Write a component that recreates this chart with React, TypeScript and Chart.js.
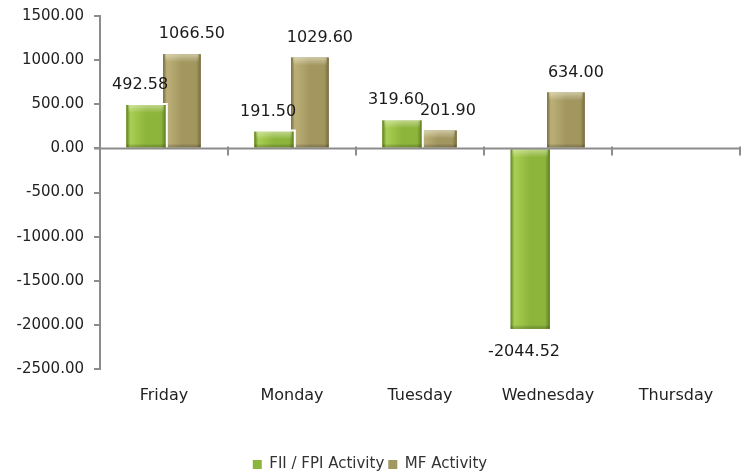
import React, { useEffect, useRef } from "react";
import { Chart, registerables } from "chart.js";

Chart.register(...registerables);

const categories = ["Friday", "Monday", "Tuesday", "Wednesday", "Thursday"];
const fiiValues: (number | null)[] = [492.58, 191.5, 319.6, -2044.52, null];
const mfValues: (number | null)[] = [1066.5, 1029.6, 201.9, 634.0, null];
const seriesNames = ["FII / FPI Activity", "MF Activity"];
const yMin = -2500;
const yMax = 1500;
const yStep = 500;

const FONT = "'DejaVu Sans', Verdana, sans-serif";

const palette = [
  { base: "#8db53b", light: "#a9cf52", dark: "#5f7d22" },
  { base: "#a39760", light: "#bcb078", dark: "#776c3e" },
];

const barShade = {
  id: "barShade",
  afterDatasetDraw(chart: any, args: any) {
    const ctx = chart.ctx;
    const i = args.index;
    const p = palette[i];
    ctx.save();
    args.meta.data.forEach((el: any, j: number) => {
      const v = chart.data.datasets[i].data[j];
      if (v === null || v === undefined) return;
      const left = el.x - el.width / 2;
      const right = el.x + el.width / 2;
      const top = Math.min(el.y, el.base);
      const bottom = Math.max(el.y, el.base);
      const w = right - left;
      const g = ctx.createLinearGradient(left, 0, right, 0);
      g.addColorStop(0, p.dark);
      g.addColorStop(0.1, p.light);
      g.addColorStop(0.5, p.base);
      g.addColorStop(0.88, p.base);
      g.addColorStop(1, p.dark);
      ctx.fillStyle = g;
      ctx.fillRect(left, top, w, bottom - top);
      const hg = ctx.createLinearGradient(0, top, 0, top + 8);
      hg.addColorStop(0, "rgba(255,255,240,0.45)");
      hg.addColorStop(1, "rgba(255,255,240,0)");
      ctx.fillStyle = hg;
      ctx.fillRect(left + 2, top, w - 4, 8);
      const bg = ctx.createLinearGradient(0, bottom - 4, 0, bottom);
      bg.addColorStop(0, "rgba(0,0,0,0)");
      bg.addColorStop(1, "rgba(0,0,0,0.25)");
      ctx.fillStyle = bg;
      ctx.fillRect(left, bottom - 4, w, 4);
      if (i === 0) {
        ctx.strokeStyle = "#ffffff";
        ctx.lineWidth = 2;
        ctx.beginPath();
        if (v >= 0) {
          ctx.moveTo(left, top - 1);
          ctx.lineTo(right + 1, top - 1);
          ctx.lineTo(right + 1, bottom);
        } else {
          ctx.moveTo(left - 1, top);
          ctx.lineTo(left - 1, bottom);
        }
        ctx.stroke();
      }
    });
    ctx.restore();
  },
};

const zeroTicks = {
  id: "zeroTicks",
  afterDatasetsDraw(chart: any) {
    const ctx = chart.ctx;
    const x = chart.scales.x;
    const y = chart.scales.y;
    const y0 = y.getPixelForValue(0);
    ctx.save();
    ctx.strokeStyle = "#8c8c8c";
    ctx.lineWidth = 2;
    ctx.beginPath();
    ctx.moveTo(x.left - 6, y0);
    ctx.lineTo(x.right, y0);
    ctx.stroke();
    for (let k = 0; k <= categories.length; k++) {
      const px = Math.round(x.getPixelForValue(k - 0.5));
      ctx.beginPath();
      ctx.moveTo(px, y0 - 2);
      ctx.lineTo(px, y0 + 7);
      ctx.stroke();
    }
    ctx.restore();
  },
};

const dataLabels = {
  id: "dataLabels",
  afterDatasetsDraw(chart: any) {
    const ctx = chart.ctx;
    ctx.save();
    ctx.font = `16px ${FONT}`;
    ctx.fillStyle = "#1a1a1a";
    ctx.textAlign = "center";
    ctx.textBaseline = "middle";
    chart.data.datasets.forEach((ds: any, i: number) => {
      const meta = chart.getDatasetMeta(i);
      meta.data.forEach((el: any, j: number) => {
        const v = ds.data[j];
        if (v === null || v === undefined) return;
        const dx = i === 0 ? -6 : 10;
        const yy = v >= 0 ? el.y - 20 : el.y + 23;
        ctx.fillText(v.toFixed(2), el.x + dx, yy);
      });
    });
    ctx.restore();
  },
};

export default function App() {
  const ref = useRef<HTMLCanvasElement>(null);
  useEffect(() => {
    document.body.style.margin = "0";
    const chart = new Chart(ref.current!, {
      type: "bar",
      data: {
        labels: categories,
        datasets: [
          {
            label: seriesNames[0],
            data: fiiValues,
            backgroundColor: palette[0].base,
            borderWidth: 0,
            categoryPercentage: 0.56,
            barPercentage: 1.1,
          },
          {
            label: seriesNames[1],
            data: mfValues,
            backgroundColor: palette[1].base,
            borderWidth: 0,
            categoryPercentage: 0.56,
            barPercentage: 1.05,
          },
        ],
      },
      options: {
        animation: false,
        responsive: false,
        layout: { padding: { left: 0, right: 6, top: 16, bottom: -6 } },
        plugins: {
          tooltip: { enabled: false },
          legend: {
            position: "bottom",
            labels: {
              boxWidth: 9,
              boxHeight: 9,
              padding: 4,
              color: "#333",
              font: { family: FONT, size: 15 },
            },
          },
        },
        scales: {
          x: {
            grid: { display: false, drawTicks: false },
            border: { display: false },
            ticks: { color: "#222", padding: 17, font: { family: FONT, size: 16 } },
            afterFit: (s: any) => {
              s.height = 84;
            },
          },
          y: {
            min: yMin,
            max: yMax,
            ticks: {
              stepSize: yStep,
              color: "#222",
              padding: 10,
              font: { family: FONT, size: 15 },
              callback: (v: any) => Number(v).toFixed(2),
            },
            grid: {
              color: "transparent",
              tickColor: "#8c8c8c",
              tickLength: 6,
              lineWidth: 2,
            },
            border: { display: true, color: "#8c8c8c", width: 2 },
            afterFit: (s: any) => {
              s.width = 100;
              s.paddingTop = 0;
              s.paddingBottom = 0;
            },
          },
        },
      },
      plugins: [barShade, zeroTicks, dataLabels],
    });
    return () => chart.destroy();
  }, []);
  return (
    <div style={{ width: 746, height: 476 }}>
      <canvas ref={ref} width={746} height={476} />
    </div>
  );
}
